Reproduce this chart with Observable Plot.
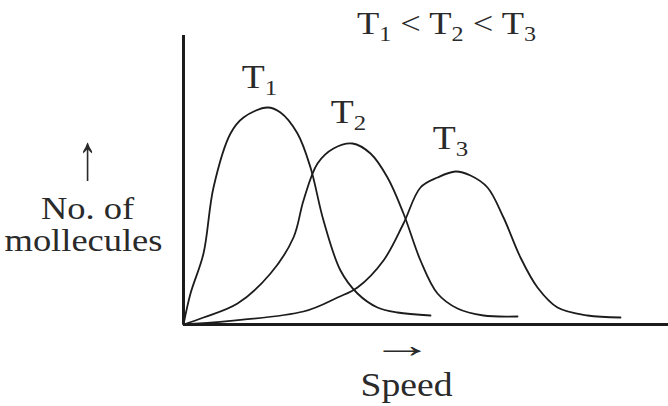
<!DOCTYPE html>
<html><head><meta charset="utf-8">
<script src="https://cdn.jsdelivr.net/npm/d3@7"></script>
<script src="https://cdn.jsdelivr.net/npm/@observablehq/plot@0.6"></script>
<style>
html,body{margin:0;padding:0;background:#fff;}
#chart svg{display:block;}
</style>
</head><body><div id="chart"></div>
<script>
// Curve readings (speed, number of molecules) in arbitrary units
const speedT1 = [0, 7, 20, 30, 47, 60, 84, 97, 114, 127, 140, 157, 174, 194, 214, 247];
const countT1 = [0, 31, 71, 137, 191, 207, 217, 212, 191, 157, 104, 54, 31, 17, 12, 9];
const speedT2 = [0, 20, 54, 87, 110, 120, 134, 150, 169, 187, 204, 220, 237, 254, 274, 300, 334];
const countT2 = [0, 7, 21, 51, 87, 124, 161, 176, 181, 171, 147, 111, 64, 31, 16, 9, 8];
const speedT3 = [0, 120, 154, 174, 200, 220, 237, 254, 272, 287, 304, 320, 337, 354, 374, 404, 437];
const countT3 = [0, 13, 27, 37, 64, 101, 137, 147, 153, 149, 137, 107, 67, 37, 17, 9, 7];

const seriesNames = ["T₁", "T₂", "T₃"];
const labelSpeed = [76, 165, 267];
const labelCount = [237, 202, 176];

const titleText = "T₁ < T₂ < T₃";
const yLabelArrow = "↑";
const yLabelLines = ["No. of", "mollecules"];
const xLabelArrow = "→";
const xLabelText = "Speed";

const curves = [
  ...speedT1.map((s, i) => ({series: "T1", speed: s, count: countT1[i]})),
  ...speedT2.map((s, i) => ({series: "T2", speed: s, count: countT2[i]})),
  ...speedT3.map((s, i) => ({series: "T3", speed: s, count: countT3[i]}))
];
const labels = seriesNames.map((n, i) => ({text: n, speed: labelSpeed[i], count: labelCount[i]}));

const font = "'Liberation Serif', 'Times New Roman', serif";
const ink = "#1c1c1c";
const textInk = "#2a2a2a";

const chart = Plot.plot({
  width: 668,
  height: 406,
  marginLeft: 183,
  marginRight: 0,
  marginTop: 35,
  marginBottom: 82,
  x: {domain: [0, 485], axis: null},
  y: {domain: [0, 289], axis: null},
  style: {fontFamily: font, background: "#fff", overflow: "visible"},
  marks: [
    Plot.line(curves, {x: "speed", y: "count", z: "series", stroke: ink, strokeWidth: 1.8, curve: "catmull-rom"}),
    Plot.ruleX([0], {stroke: ink, strokeWidth: 3}),
    Plot.ruleY([0], {stroke: ink, strokeWidth: 3}),
    Plot.text(labels, {x: "speed", y: "count", text: "text", fontSize: 33, fill: textInk, textAnchor: "middle", lineAnchor: "bottom"}),
    Plot.text([titleText], {x: 263, y: 291, fontSize: 32, fill: textInk, textAnchor: "middle", lineAnchor: "bottom"}),
    Plot.text([yLabelArrow], {x: -96, y: 166, fontSize: 38, fill: textInk, textAnchor: "middle", lineAnchor: "middle"}),
    Plot.text([yLabelLines[0]], {x: -96, y: 106, fontSize: 32, fill: textInk, textAnchor: "middle", lineAnchor: "bottom"}),
    Plot.text([yLabelLines[1]], {x: -100, y: 74, fontSize: 32, fill: textInk, textAnchor: "middle", lineAnchor: "bottom"}),
    Plot.text([xLabelArrow], {x: 219, y: -21, fontSize: 36, fill: textInk, textAnchor: "middle", lineAnchor: "middle"}),
    Plot.text([xLabelText], {x: 223, y: -71, fontSize: 33, fill: textInk, textAnchor: "middle", lineAnchor: "bottom"})
  ]
});

// subscripts, slight horizontal stretch of the serif lettering, long thin arrows
const ns = "http://www.w3.org/2000/svg";
const subMap = {"₁": "1", "₂": "2", "₃": "3"};
chart.querySelectorAll("text").forEach(t => {
  const s = t.textContent;
  if (/[₁₂₃]/.test(s) && t.children.length === 0) {
    t.textContent = "";
    let shifted = false;
    for (const p of s.split(/([₁₂₃])/)) {
      if (!p) continue;
      const ts = document.createElementNS(ns, "tspan");
      if (subMap[p]) {
        ts.textContent = subMap[p];
        ts.setAttribute("font-size", "0.66em");
        ts.setAttribute("dy", "7");
        shifted = true;
      } else {
        ts.textContent = p;
        if (shifted) { ts.setAttribute("dy", "-7"); shifted = false; }
      }
      t.appendChild(ts);
    }
  }
  const sc = s === yLabelArrow ? "scale(1,1.7)" : s === xLabelArrow ? "scale(1.75,1)" : "scale(1.14,1)";
  const tr = t.getAttribute("transform");
  if (tr) {
    t.setAttribute("transform", tr + " " + sc);
  } else {
    const x = t.getAttribute("x") || 0, y = t.getAttribute("y") || 0;
    t.removeAttribute("x"); t.removeAttribute("y");
    t.setAttribute("transform", `translate(${x},${y}) ${sc}`);
  }
});

document.getElementById("chart").appendChild(chart);
</script>
</body></html>
